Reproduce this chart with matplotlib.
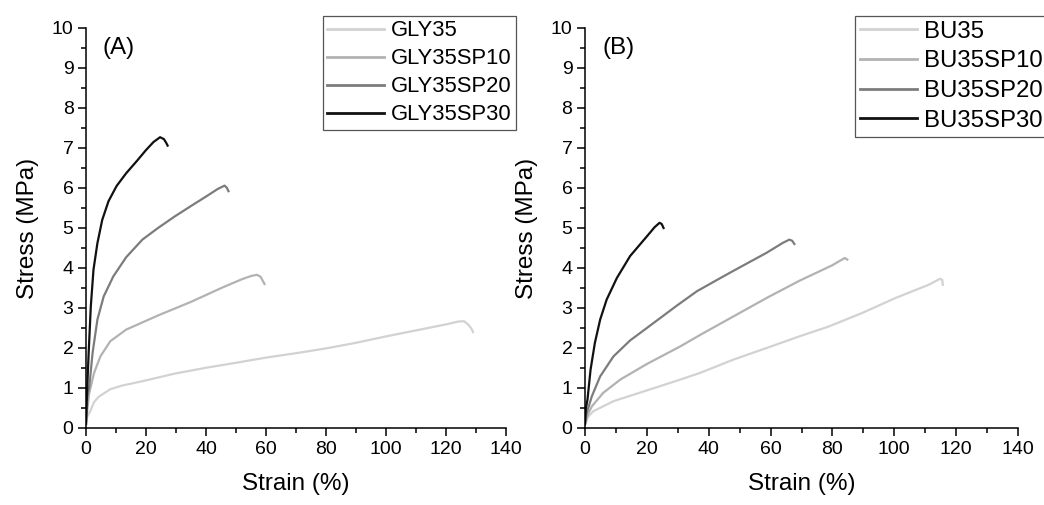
import matplotlib
matplotlib.use('Agg')
import matplotlib.pyplot as plt
from matplotlib.ticker import MultipleLocator

plt.rcParams['font.family'] = ['Liberation Sans', 'DejaVu Sans']

# --- panel A : glycerol series ---
gly35_x = [0, 0.5, 1.3, 2.7, 4.2, 8.1, 12, 18.8, 29.6, 40.3, 50, 60, 70, 80, 90, 100, 110, 120, 124, 126, 127.5, 128.5, 129]
gly35_y = [0.15, 0.3, 0.4, 0.65, 0.78, 0.97, 1.06, 1.17, 1.36, 1.51, 1.63, 1.76, 1.87, 1.99, 2.13, 2.29, 2.44, 2.59, 2.66, 2.67, 2.58, 2.48, 2.4]

gly35sp10_x = [0, 0.5, 1.1, 2.7, 4.8, 8.1, 13.4, 24.2, 34.9, 45.7, 52, 55, 57, 58.2, 59, 59.5]
gly35sp10_y = [0.1, 0.5, 0.88, 1.38, 1.79, 2.17, 2.46, 2.82, 3.15, 3.52, 3.72, 3.8, 3.83, 3.78, 3.67, 3.6]

gly35sp20_x = [0, 0.5, 1.1, 2.2, 3.8, 5.9, 9.1, 13.4, 18.8, 24, 29.6, 35, 40.3, 44, 46.2, 47, 47.5]
gly35sp20_y = [0.1, 0.8, 1.04, 1.88, 2.71, 3.29, 3.79, 4.27, 4.71, 5.0, 5.29, 5.55, 5.8, 5.98, 6.06, 6.0, 5.92]

gly35sp30_x = [0, 0.4, 0.9, 1.6, 2.5, 3.8, 5.4, 7.5, 10.2, 13.4, 17, 19.9, 22.5, 24.7, 26, 26.8, 27.2]
gly35sp30_y = [0.1, 1.0, 1.9, 3.04, 3.96, 4.62, 5.2, 5.67, 6.05, 6.37, 6.68, 6.94, 7.15, 7.27, 7.22, 7.12, 7.06]

# --- panel B : butanediol series ---
bu35_x = [0, 1, 2.7, 9.2, 20, 30.8, 37.3, 48, 58.7, 69.3, 78.9, 89.6, 100.4, 111.1, 114.8, 115.5, 115.7]
bu35_y = [0.1, 0.28, 0.42, 0.67, 0.94, 1.21, 1.38, 1.71, 2.0, 2.29, 2.54, 2.875, 3.25, 3.58, 3.73, 3.7, 3.58]

bu35sp10_x = [0, 1, 2.2, 5.9, 11.4, 20, 30.8, 37.3, 48, 58.7, 69.3, 80, 82.2, 84, 84.8]
bu35sp10_y = [0.1, 0.35, 0.54, 0.88, 1.21, 1.6, 2.04, 2.33, 2.79, 3.25, 3.68, 4.07, 4.17, 4.25, 4.21]

bu35sp20_x = [0, 0.5, 2.2, 4.9, 9.2, 14.6, 20, 29.7, 36.2, 43.8, 48, 58.7, 64, 66.1, 67, 67.7]
bu35sp20_y = [0.1, 0.36, 0.79, 1.29, 1.79, 2.19, 2.5, 3.06, 3.42, 3.75, 3.93, 4.38, 4.63, 4.71, 4.68, 4.6]

bu35sp30_x = [0, 0.3, 0.8, 1.8, 3.2, 4.9, 7, 10.3, 14.6, 20, 22.5, 24.1, 24.8, 25.4]
bu35sp30_y = [0.1, 0.5, 0.71, 1.46, 2.13, 2.71, 3.21, 3.75, 4.3, 4.79, 5.02, 5.13, 5.1, 5.0]

colors = ['#d2d2d2', '#b2b2b2', '#7c7c7c', '#111111']

fig = plt.figure(figsize=(10.44, 5.05), dpi=100)
axA = fig.add_axes([86 / 1044, 1 - 428 / 505, 420 / 1044, 400 / 505])
axB = fig.add_axes([585 / 1044, 1 - 428 / 505, 433 / 1044, 400 / 505])


def style_axis(ax):
    ax.set_xlim(0, 140)
    ax.set_ylim(0, 10)
    ax.xaxis.set_major_locator(MultipleLocator(20))
    ax.xaxis.set_minor_locator(MultipleLocator(10))
    ax.yaxis.set_major_locator(MultipleLocator(1))
    ax.yaxis.set_minor_locator(MultipleLocator(0.5))
    for s in ['top', 'right']:
        ax.spines[s].set_visible(False)
    for s in ['left', 'bottom']:
        ax.spines[s].set_linewidth(1.1)
    ax.tick_params(which='major', direction='out', length=6, width=1.1, labelsize=14, pad=3)
    ax.tick_params(which='minor', direction='out', length=3.5, width=1.1)
    ax.set_xlabel('Strain (%)', fontsize=17.5, labelpad=11)
    ax.set_ylabel('Stress (MPa)', fontsize=17.5, labelpad=9)


panels = [
    (axA, '(A)', [gly35_x, gly35sp10_x, gly35sp20_x, gly35sp30_x],
     [gly35_y, gly35sp10_y, gly35sp20_y, gly35sp30_y],
     ['GLY35', 'GLY35SP10', 'GLY35SP20', 'GLY35SP30'], 0.5636, 15.8),
    (axB, '(B)', [bu35_x, bu35sp10_x, bu35sp20_x, bu35sp30_x],
     [bu35_y, bu35sp10_y, bu35sp20_y, bu35sp30_y],
     ['BU35', 'BU35SP10', 'BU35SP20', 'BU35SP30'], 0.623, 17.3),
]

for ax, tag, xs, ys, names, lx, fs in panels:
    for x, y, c, n in zip(xs, ys, colors, names):
        ax.plot(x, y, color=c, lw=1.6, label=n)
    style_axis(ax)
    ax.text(5.5, 9.5, tag, fontsize=17.5, va='center', ha='left')
    leg = ax.legend(loc='upper left', bbox_to_anchor=(lx, 1.03), borderaxespad=0,
                    fontsize=fs, frameon=True, fancybox=False, framealpha=1,
                    handlelength=41 / fs, handletextpad=0.3, labelspacing=0.32,
                    borderpad=0.2)
    leg.get_frame().set_edgecolor('#555555')
    leg.get_frame().set_linewidth(0.9)
    for line in leg.get_lines():
        line.set_linewidth(2.0)

fig.savefig('out.png', dpi=100)
